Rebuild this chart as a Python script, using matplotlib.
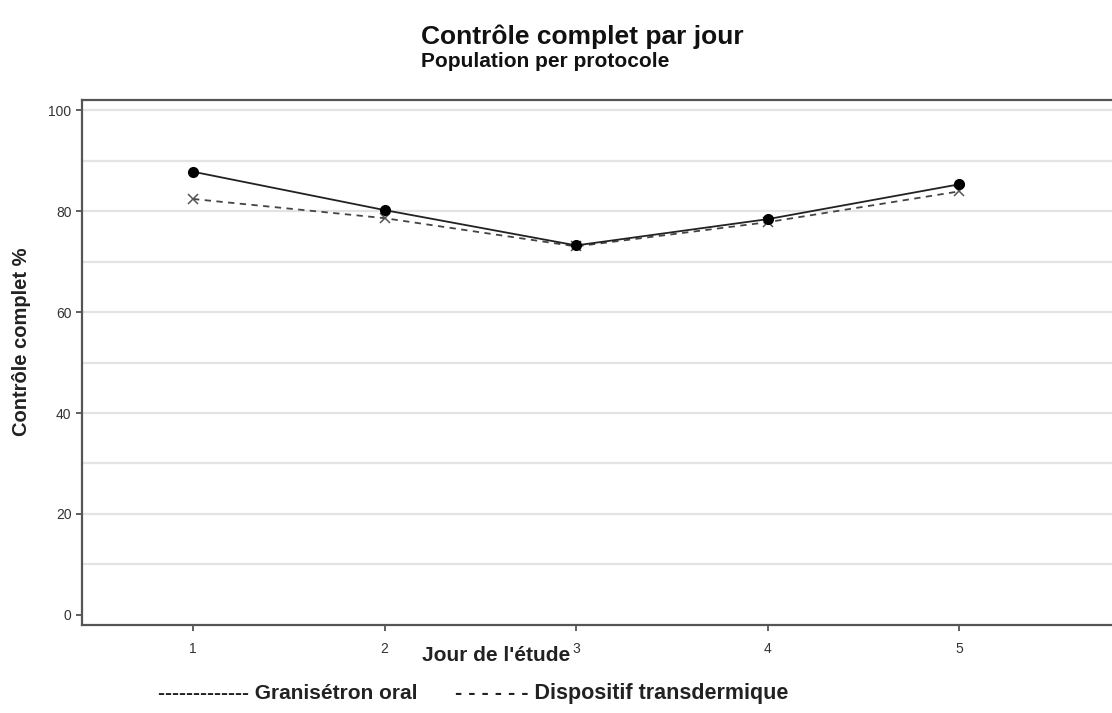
import numpy as np
import matplotlib
matplotlib.use("Agg")
import matplotlib.pyplot as plt

plt.rcParams['font.family'] = ['Liberation Sans', 'DejaVu Sans']

jours = [1, 2, 3, 4, 5]
granisetron = [87.8, 80.2, 73.2, 78.4, 85.3]
dispositif = [82.4, 78.6, 73.0, 77.8, 83.9]
yticks = [0, 20, 40, 60, 80, 100]

fig = plt.figure(figsize=(11.12, 7.13), dpi=100)
ax = fig.add_axes([0.0737, 0.1234, 0.93, 0.7363])

for g in np.arange(10, 101, 10):
    ax.axhline(g, color='#e3e3e3', lw=1.6, zorder=0)

ax.plot(jours, granisetron, color='#222222', lw=1.3, marker='o', ms=7,
        mfc='black', mec='black', zorder=3)
ax.plot(jours, dispositif, color='#444444', lw=1.3, ls=(0, (3.5, 3)),
        marker='x', ms=7, mec='#555555', mew=1.1, zorder=2)

ax.set_xlim(0.42, 5.82)
ax.set_ylim(-2, 102)
ax.set_xticks(jours)
ax.set_yticks(yticks)
ax.tick_params(axis='both', direction='out', length=4, width=1.2,
               color='#444444', labelsize=10, labelcolor='#333333')
ax.tick_params(axis='x', pad=8)

for s in ['left', 'bottom', 'top']:
    ax.spines[s].set_linewidth(1.6)
    ax.spines[s].set_color('#555555')
ax.spines['right'].set_visible(False)

# axis titles placed as in the reference
fig.text(0.019, 0.52, "Contrôle complet %", fontsize=14.5, fontweight='bold',
         color='#222222', rotation=90, ha='center', va='center')
fig.text(0.446, 0.081, "Jour de l'étude", fontsize=15, fontweight='bold',
         color='#222222', ha='center', va='center')

fig.text(0.3786, 0.948, "Contrôle complet par jour", fontsize=19,
         fontweight='bold', color='#111111', ha='left', va='center')
fig.text(0.3786, 0.914, "Population per protocole", fontsize=15,
         fontweight='bold', color='#111111', ha='left', va='center')

fig.text(0.142, 0.028, "------------- Granisétron oral", fontsize=15,
         fontweight='bold', color='#222222', ha='left', va='center')
fig.text(0.409, 0.028, "- - - - - - Dispositif transdermique", fontsize=15.5,
         fontweight='bold', color='#222222', ha='left', va='center')

fig.savefig("out.png", dpi=100)
